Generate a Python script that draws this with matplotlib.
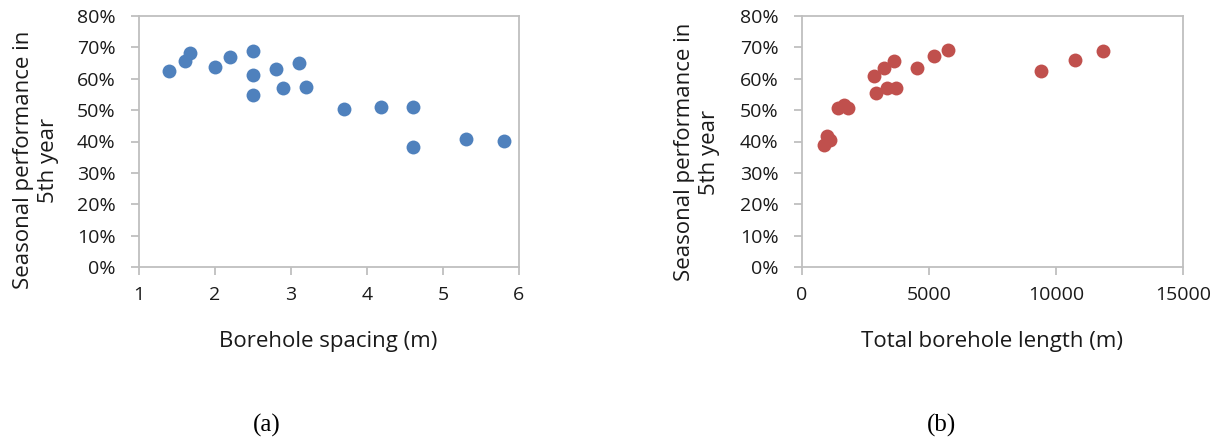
import matplotlib
matplotlib.use("Agg")
import matplotlib.pyplot as plt
from matplotlib.ticker import PercentFormatter

# Data
spacing_m = [1.4, 1.6, 1.67, 2.0, 2.2, 2.5, 2.5, 2.5, 2.8, 2.9, 3.1, 3.2,
             3.7, 4.18, 4.6, 4.6, 5.3, 5.8]
perf_a = [62.5, 65.6, 68.2, 63.8, 67.0, 68.9, 61.2, 54.7, 63.1, 56.9, 65.0, 57.4,
          50.4, 51.0, 51.0, 38.3, 40.9, 40.2]

length_m = [853, 997, 1089, 1417, 1654, 1811, 2822, 2900, 3228, 3360, 3609, 3688,
            4541, 5184, 5735, 9423, 10761, 11850]
perf_b = [38.8, 41.7, 40.6, 50.8, 51.5, 50.8, 61.0, 55.3, 63.5, 57.1, 65.6, 57.2,
          63.5, 67.4, 69.3, 62.4, 66.1, 68.8]

ylabel = "Seasonal performance in\n5th year"
xlabel_a = "Borehole spacing (m)"
xlabel_b = "Total borehole length (m)"

W, H = 1224, 437
plt.rcParams['font.family'] = ['Open Sans', 'DejaVu Sans']
fig = plt.figure(figsize=(W / 100, H / 100), dpi=100)

def px_axes(x0, x1, y0, y1):
    return fig.add_axes([x0 / W, 1 - y1 / H, (x1 - x0) / W, (y1 - y0) / H])

grey = "#BFBFBF"
tick_fs = 14
label_fs = 16

def style(ax):
    for s in ax.spines.values():
        s.set_color(grey)
        s.set_linewidth(1.3)
    ax.tick_params(axis='both', colors=grey, labelcolor='#1a1a1a', length=6, width=1.3,
                   labelsize=tick_fs)
    ax.tick_params(axis='y', pad=11)
    ax.tick_params(axis='x', pad=8)
    ax.set_ylim(0, 80)
    ax.set_yticks(range(0, 81, 10))
    ax.yaxis.set_major_formatter(PercentFormatter(decimals=0))

ax1 = px_axes(139, 519, 16, 267)
ax1.scatter(spacing_m, perf_a, s=100, color="#4F81BD", zorder=3, linewidths=0)
ax1.set_xlim(1, 6)
ax1.set_xticks(range(1, 7))
style(ax1)

ax2 = px_axes(802, 1183, 16, 267)
ax2.scatter(length_m, perf_b, s=100, color="#C0504D", zorder=3, linewidths=0)
ax2.set_xlim(0, 15000)
ax2.set_xticks([0, 5000, 10000, 15000])
style(ax2)

def ftext(x, y, s, **kw):
    fig.text(x / W, 1 - y / H, s, ha='center', va='center', **kw)

ftext(328, 342, xlabel_a, fontsize=label_fs, color='#1a1a1a')
ftext(992, 342, xlabel_b, fontsize=label_fs, color='#1a1a1a')
ftext(36, 160, ylabel, fontsize=label_fs, rotation=90, linespacing=1.3, color='#1a1a1a')
ftext(697, 152, ylabel, fontsize=label_fs, rotation=90, linespacing=1.3, color='#1a1a1a')

ftext(267, 425, "(a)", fontsize=18, family='Liberation Serif')
ftext(942, 425, "(b)", fontsize=18, family='Liberation Serif')

fig.savefig("out.png", dpi=100)
